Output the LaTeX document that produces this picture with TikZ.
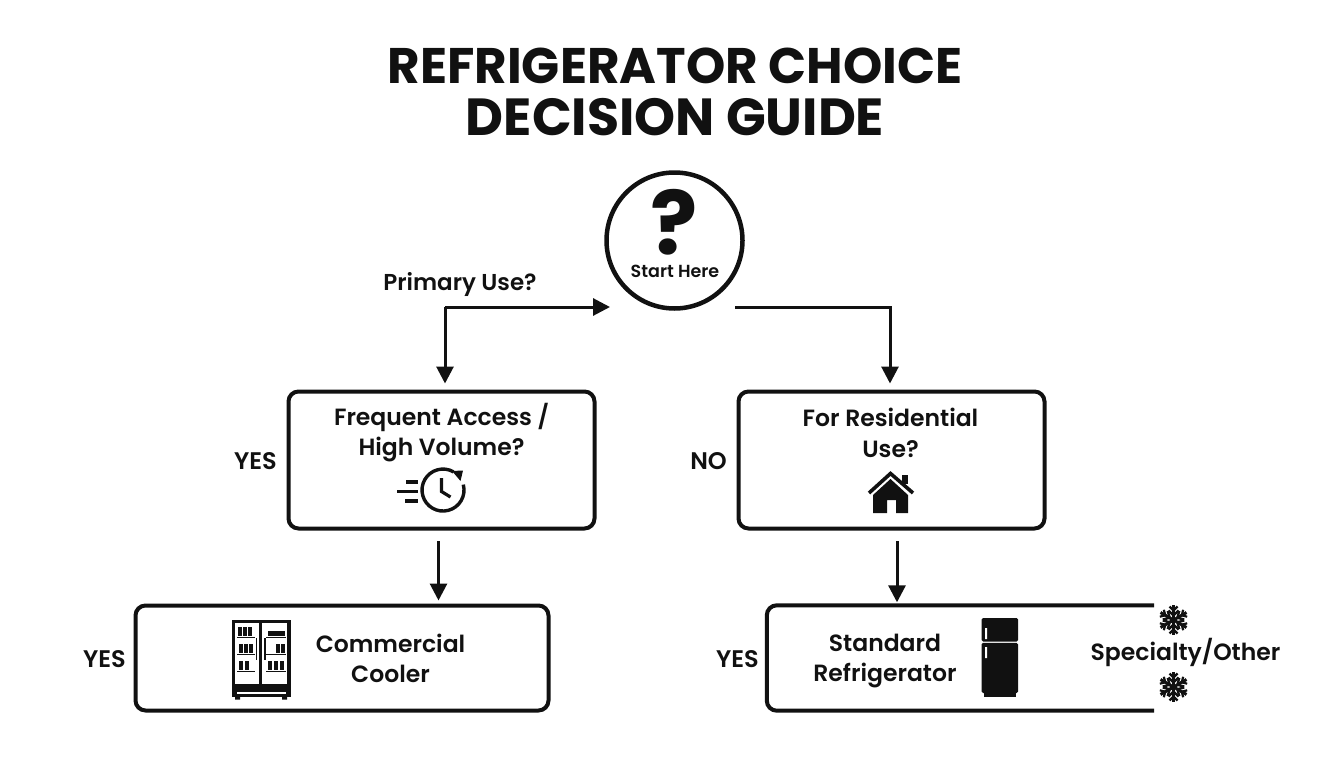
\documentclass[tikz,border=0pt]{standalone}
\usepackage{fontspec}
\setmainfont{Poppins}
\newfontfamily\titlefont{Poppins Bold}
\newfontfamily\labelfont{Poppins SemiBold}
\usetikzlibrary{arrows.meta}
\definecolor{ink}{HTML}{111111}
\tikzset{
  titletext/.style={font=\titlefont\fontsize{50}{52}\selectfont,text=ink,align=center,inner sep=0pt},
  boxtext/.style={font=\labelfont\fontsize{23.5}{30.5}\selectfont,text=ink,align=center,inner sep=0pt},
  answer/.style={font=\labelfont\fontsize{24}{26}\selectfont,text=ink,inner sep=0pt},
  box/.style={draw=ink,line width=4pt,rounded corners=10pt,inner sep=0pt},
  flow/.style={draw=ink,line width=3pt,-{Triangle[length=17pt,width=17pt]}},
  flake/.pic={
    \foreach \a in {30,90,...,330}{
      \draw[ink,line width=3pt,rotate=\a] (0,0) -- (15,0);
      \draw[ink,line width=2.4pt,rotate=\a] (4.5,0) -- (9.5,-5) (4.5,0) -- (9.5,5);
      \draw[ink,line width=2.2pt,rotate=\a] (9.5,0) -- (13.5,-4) (9.5,0) -- (13.5,4);
    }
  }
}
\begin{document}
\begin{tikzpicture}[x=1pt,y=-1pt]
  \useasboundingbox (0,0) rectangle (1344,768);
  \node[titletext](title) at (675,91.5){REFRIGERATOR CHOICE\\[0pt]{\fontsize{52.2}{52}\selectfont DECISION GUIDE}};

  \node[circle,draw=ink,line width=4.5pt,minimum size=136pt,inner sep=0pt](start) at (674.5,240.5){};
  \node[font=\titlefont\fontsize{88}{90}\selectfont,text=ink,inner sep=0pt](mark) at (674,222){?};
  \node[font=\labelfont\fontsize{17.5}{20}\selectfont,text=ink,inner sep=0pt](starttext) at (675,271){Start Here};
  \node[answer,font=\labelfont\fontsize{23}{26}\selectfont](primary) at (460,284.5){Primary Use?};

  \node[box,minimum width=306pt,minimum height=137pt](freq) at (441.5,460){};
  \node[box,minimum width=306pt,minimum height=137pt](resi) at (891.5,460){};
  \node[box,minimum width=413pt,minimum height=105pt](cool) at (342,658){};
  \node[inner sep=0pt,minimum width=387pt,minimum height=105pt](stand) at (960.5,658){};
  \draw[ink,line width=4pt,rounded corners=10pt] (stand.north east) -- (stand.north west) -- (stand.south west) -- (stand.south east);

  \node[boxtext](freqtext) at (441.5,432.5){Frequent Access /\\High Volume?};
  \node[boxtext](resitext) at (890.5,433){For Residential\\Use?};
  \node[boxtext](cooltext) at (390.5,658.5){Commercial\\Cooler};
  \node[boxtext](standtext) at (885,661){Standard\\Refrigerator};
  \node[boxtext](special) at (1185.5,652){Specialty/Other};

  \node[answer,left=0pt] (yesa) at (277,461){YES};
  \node[answer,left=0pt] (noa) at (727,461){NO};
  \node[answer,left=0pt] (yesb) at (126,659){YES};
  \node[answer,left=0pt] (yesc) at (759,659){YES};

  \coordinate (startin) at (610,307);
  \coordinate (startout) at (735,307);
  \coordinate (bendl) at (445,307);
  \coordinate (bendr) at (890,307);
  \coordinate (freqout) at (438.5,541);
  \coordinate (resiout) at (897,541);
  \draw[flow] (bendl) -- (startin);
  \draw[flow,shorten >=6pt] (bendl) -- (bendl |- freq.north);
  \draw[flow,shorten >=6pt] (startout) -| (bendr |- resi.north);
  \draw[flow,shorten >=3pt] (freqout) -- (freqout |- cool.north);
  \draw[flow,shorten >=3pt] (resiout) -- (resiout |- stand.north);

  \draw[ink,line width=3.4pt] (463.3,484.6) arc (-15:300:21);
  \draw[ink,line width=3.2pt] (441.5,478) -- (441.5,491.5) -- (450.5,497);
  \fill[ink] (452,471) -- (463,470.5) -- (460.5,481) -- cycle;
  \foreach \y/\x in {482/406,491.5/397,501/405}
    \draw[ink,line width=3.2pt] (\x,\y) -- (418,\y);

  \fill[ink] (890.5,479) -- (873,495) -- (873,513) -- (887,513) -- (887,500) -- (896,500) -- (896,513) -- (908,513) -- (908,495) -- cycle;
  \draw[ink,line width=3.6pt] (869,493) -- (890.5,473.5) -- (913,493);
  \fill[ink] (902,475) rectangle (908,484);

  \draw[ink,line width=3.6pt] (233.5,621.5) rectangle (289,686);
  \draw[ink,line width=3pt] (260.7,621.5) -- (260.7,686);
  \fill[ink] (232,688) rectangle (290.5,697);
  \fill[white] (237,691.5) rectangle (286,694);
  \fill[ink] (235,697) rectangle (240,699.5) (282,697) rectangle (287,699.5);
  \foreach \y in {637.5,654.5,671.5}{
    \draw[ink,line width=1.4pt] (237,\y) -- (255,\y);
    \draw[ink,line width=1.4pt] (266,\y) -- (286,\y);
  }
  \foreach \x/\y in {240/636,245/636,250/636,241/653,246/653,251/653,241/670,247/670,270/670,276/670,282/670,278/653,283/653}
    \fill[ink] (\x-1.8,\y) rectangle (\x+1.8,\y-9);
  \fill[ink] (268,631) rectangle (285,636);
  \draw[ink,line width=1.6pt] (256.5,638) -- (256.5,660) (265,638) -- (265,660);

  \fill[ink,rounded corners=1.5pt] (981.5,618) rectangle (1018,641.5);
  \fill[ink,rounded corners=1.5pt] (981.5,642.8) rectangle (1018,693);
  \fill[white] (985,628) rectangle (987,639) (985,647) rectangle (987,658);
  \fill[ink] (984,693) rectangle (1016,696.5);

  \pic at (1173.5,620) {flake};
  \pic at (1173.5,687) {flake};
\end{tikzpicture}
\end{document}
